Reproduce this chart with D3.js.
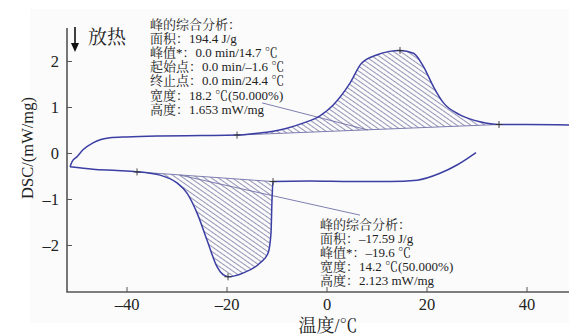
<!DOCTYPE html>
<html><head><meta charset="utf-8">
<script src="https://cdn.jsdelivr.net/npm/d3@7"></script>
<style>
html,body{margin:0;padding:0;background:#fff;}
svg{display:block;}
text{font-family:"Liberation Serif","Times New Roman","Noto Serif CJK SC","Noto Sans CJK SC",serif;fill:#222;}
</style></head><body>
<svg id="c" width="569" height="335"></svg>
<script>
// ---- data ----
const heatT = [-51.4,-51,-50,-48.8,-46.8,-43.4,-40,-33.4,-25,-18,-14,-11,-8,-4.8,-1.4,1.2,4.6,6.9,9.9,12.5,14.6,17.3,19.3,21.3,23.3,26.6,30.6,34.4,40,48.4];
const heatY = [-0.29,-0.18,-0.07,0.08,0.23,0.34,0.36,0.38,0.39,0.40,0.44,0.48,0.55,0.66,0.82,1.05,1.53,1.96,2.14,2.22,2.24,2.18,1.89,1.45,1.10,0.84,0.69,0.63,0.63,0.62];
const coolT = [-51.4,-46.8,-42,-38,-35.4,-33.4,-30,-28,-26,-24,-22,-19.8,-16.8,-13.4,-11.8,-11.2,-11,-10.8,-3.4,5,12.6,18,22.6,26,29.8];
const coolY = [-0.29,-0.34,-0.37,-0.40,-0.43,-0.47,-0.64,-0.86,-1.29,-1.88,-2.46,-2.68,-2.60,-2.38,-2.17,-1.73,-1.01,-0.61,-0.60,-0.61,-0.61,-0.58,-0.43,-0.25,0.02];
const heatMarks = [-18, 14.6, 34.4];     // onset, peak, end
const coolMarks = [-38, -19.8, -10.8];
const xTicks = [-40,-20,0,20,40];
const yTicks = [-2,-1,0,1,2];
const heatLeader = [[-13,1.10],[8.2,0.51]];
const coolLeader = [[-29.4,-0.47],[6.6,-1.34]];
const heatText = ["峰的综合分析：","面积：194.4 J/g","峰值*：0.0 min/14.7 ℃","起始点：0.0 min/–1.6 ℃","终止点：0.0 min/24.4 ℃","宽度：18.2 ℃(50.000%)","高度：1.653 mW/mg"];
const coolText = ["峰的综合分析：","面积：–17.59 J/g","峰值*：–19.6 ℃","宽度：14.2 ℃(50.000%)","高度：2.123 mW/mg"];
const xLabel = "温度/℃", yLabel = "DSC/(mW/mg)", exoLabel = "放热";

// ---- layout ----
const svg = d3.select("#c");
const L = 67, R = 569, T = 28, B = 292;
const x = d3.scaleLinear().domain([-52, 48.4]).range([L, R]);
const y = d3.scaleLinear().domain([-3.011, 2.728]).range([B, T]);
const fmt = v => v < 0 ? "–" + Math.abs(v) : String(v);

svg.append("rect").attr("x",30).attr("y",9).attr("width",539).attr("height",314).attr("fill","#fbfbfb");

const defs = svg.append("defs");
const pat = defs.append("pattern").attr("id","hatch").attr("patternUnits","userSpaceOnUse")
  .attr("width",4).attr("height",4).attr("patternTransform","rotate(35)");
pat.append("line").attr("x1",0).attr("y1",0.5).attr("x2",4).attr("y2",0.5)
  .attr("stroke","#8a8ab0").attr("stroke-width",0.9);

const line = d3.line().x(d=>x(d[0])).y(d=>y(d[1])).curve(d3.curveMonotoneX);
const heat = heatT.map((t,i)=>[t,heatY[i]]);
const cool = coolT.map((t,i)=>[t,coolY[i]]);

function hatchArea(pts, t0, t1){
  const i0 = pts.findIndex(p=>p[0]===t0), i1 = pts.findIndex(p=>p[0]===t1);
  const sub = pts.slice(i0, i1+1);
  return line(sub) + "L" + x(sub[0][0]) + "," + y(sub[0][1]) + "Z";
}
svg.append("path").attr("d", hatchArea(heat, heatMarks[0], heatMarks[2])).attr("fill","url(#hatch)").attr("stroke","none");
svg.append("path").attr("d", hatchArea(cool, coolMarks[0], coolMarks[2])).attr("fill","url(#hatch)").attr("stroke","none");

// baselines
const lookup = (pts,t)=>pts.find(p=>p[0]===t);
[[heat,heatMarks],[cool,coolMarks]].forEach(([pts,m])=>{
  const a = lookup(pts,m[0]), b = lookup(pts,m[2]);
  svg.append("line").attr("x1",x(a[0])).attr("y1",y(a[1])).attr("x2",x(b[0])).attr("y2",y(b[1]))
    .attr("stroke","#7070a8").attr("stroke-width",0.9);
});
// leaders
[heatLeader, coolLeader].forEach(ld=>{
  svg.append("line").attr("x1",x(ld[0][0])).attr("y1",y(ld[0][1])).attr("x2",x(ld[1][0])).attr("y2",y(ld[1][1]))
    .attr("stroke","#7070a8").attr("stroke-width",0.9);
});

// curves
svg.append("path").attr("d", line(heat)).attr("fill","none").attr("stroke","#3b3ea3").attr("stroke-width",1.5);
svg.append("path").attr("d", line(cool)).attr("fill","none").attr("stroke","#3b3ea3").attr("stroke-width",1.5);

// crosses
[[heat,heatMarks],[cool,coolMarks]].forEach(([pts,m])=>{
  m.forEach(t=>{
    const p = lookup(pts,t), cx = x(p[0]), cy = y(p[1]);
    svg.append("path").attr("d",`M${cx-3.5},${cy}H${cx+3.5}M${cx},${cy-3.5}V${cy+3.5}`)
      .attr("stroke","#333").attr("stroke-width",0.9);
  });
});

// axes
const ax = svg.append("g").attr("stroke","#555").attr("stroke-width",1.6).attr("fill","none");
ax.append("path").attr("d",`M${L},${T}V${B}H${R}`);
xTicks.forEach(v=>ax.append("line").attr("x1",x(v)).attr("x2",x(v)).attr("y1",B).attr("y2",B-5).attr("stroke-width",1));
yTicks.forEach(v=>ax.append("line").attr("x1",L).attr("x2",L+5).attr("y1",y(v)).attr("y2",y(v)).attr("stroke-width",1));

svg.selectAll(".xt").data(xTicks).enter().append("text")
  .attr("x",d=>x(d)).attr("y",310).attr("text-anchor","middle").attr("font-size",16.5).text(fmt);
svg.selectAll(".yt").data(yTicks).enter().append("text")
  .attr("x",59).attr("y",d=>y(d)+5.5).attr("text-anchor","end").attr("font-size",16.5).text(fmt);

svg.append("text").attr("x",328).attr("y",332).attr("text-anchor","middle").attr("font-size",18).text(xLabel);
svg.append("text").attr("transform","translate(33,148) rotate(-90)").attr("text-anchor","middle").attr("font-size",16.5).text(yLabel);

// exo arrow
svg.append("path").attr("d","M75,27V50").attr("stroke","#111").attr("stroke-width",1.6);
svg.append("path").attr("d","M71,43L75,52L79,43Z").attr("fill","#111");
svg.append("text").attr("x",88).attr("y",44).attr("font-size",19).text(exoLabel);

// annotation blocks
heatText.forEach((s,i)=>svg.append("text").attr("x",150).attr("y",29+i*14.1).attr("font-size",13).text(s));
coolText.forEach((s,i)=>svg.append("text").attr("x",320).attr("y",228.5+i*14.1).attr("font-size",13).text(s));
</script>
</body></html>
